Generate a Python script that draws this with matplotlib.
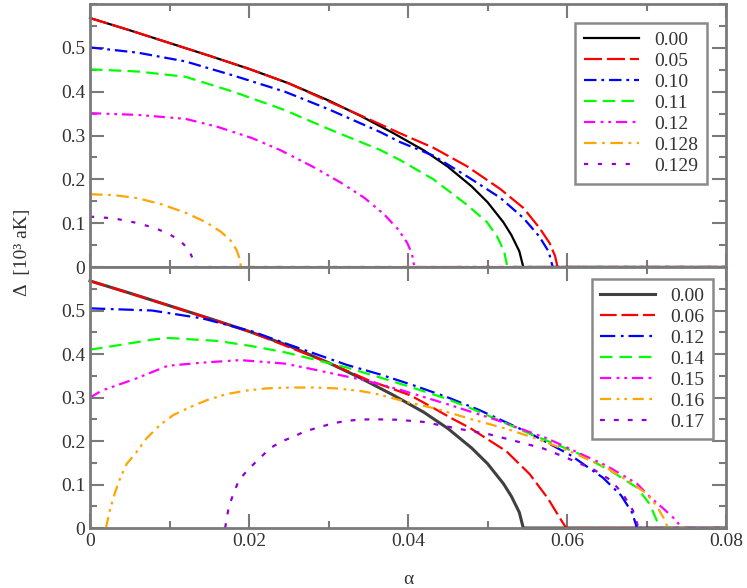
import numpy as np
import matplotlib
matplotlib.use("Agg")
import matplotlib.pyplot as plt
from matplotlib.ticker import MultipleLocator

plt.rcParams['font.family'] = ['Liberation Serif', 'DejaVu Serif']
plt.rcParams['lines.scale_dashes'] = False

# ---- data ----
# top panel
top_labels = ['0.00', '0.05', '0.10', '0.11', '0.12', '0.128', '0.129']

a_black = [0, 0.005, 0.01, 0.015, 0.02, 0.025, 0.03, 0.034, 0.038, 0.042, 0.045, 0.048, 0.050, 0.052, 0.053, 0.054, 0.0545]
d_black = [0.568, 0.540, 0.511, 0.482, 0.452, 0.419, 0.380, 0.345, 0.307, 0.266, 0.229, 0.184, 0.148, 0.102, 0.073, 0.036, 0.0]

a_t05 = [0, 0.005, 0.01, 0.015, 0.02, 0.025, 0.03, 0.035, 0.039, 0.0432, 0.0474, 0.0516, 0.0545, 0.0565, 0.0578, 0.0585, 0.0588]
d_t05 = [0.568, 0.540, 0.511, 0.482, 0.452, 0.419, 0.378, 0.338, 0.305, 0.272, 0.230, 0.178, 0.135, 0.090, 0.055, 0.025, 0.0]

a_t10 = [0, 0.006, 0.012, 0.018, 0.0245, 0.03, 0.0365, 0.039, 0.0432, 0.0474, 0.0516, 0.0545, 0.0565, 0.0577, 0.0582]
d_t10 = [0.501, 0.489, 0.469, 0.437, 0.400, 0.360, 0.308, 0.285, 0.254, 0.207, 0.158, 0.112, 0.070, 0.035, 0.0]

a_t11 = [0, 0.006, 0.012, 0.018, 0.0245, 0.03, 0.0365, 0.039, 0.0432, 0.0474, 0.0499, 0.0512, 0.0521, 0.0525]
d_t11 = [0.451, 0.446, 0.434, 0.400, 0.358, 0.315, 0.267, 0.244, 0.200, 0.142, 0.103, 0.070, 0.035, 0.0]

a_t12 = [0, 0.006, 0.012, 0.016, 0.0204, 0.0239, 0.028, 0.0315, 0.0345, 0.037, 0.0388, 0.0399, 0.0405, 0.0408]
d_t12 = [0.351, 0.347, 0.338, 0.320, 0.294, 0.267, 0.229, 0.193, 0.158, 0.120, 0.085, 0.055, 0.030, 0.0]

a_t128 = [0, 0.003, 0.006, 0.009, 0.012, 0.0145, 0.0165, 0.0177, 0.0184, 0.0188, 0.0190]
d_t128 = [0.166, 0.164, 0.157, 0.143, 0.124, 0.103, 0.080, 0.060, 0.040, 0.020, 0.0]

a_t129 = [0, 0.003, 0.0055, 0.008, 0.0100, 0.0115, 0.0124, 0.0129, 0.0131]
d_t129 = [0.115, 0.111, 0.102, 0.090, 0.075, 0.057, 0.040, 0.020, 0.0]

# bottom panel
bot_labels = ['0.00', '0.06', '0.12', '0.14', '0.15', '0.16', '0.17']

a_b06 = [0, 0.01, 0.02, 0.03, 0.035, 0.0403, 0.0428, 0.0455, 0.0478, 0.0524, 0.0553, 0.0576, 0.0591, 0.0599]
d_b06 = [0.568, 0.511, 0.452, 0.380, 0.340, 0.305, 0.280, 0.252, 0.230, 0.176, 0.124, 0.068, 0.023, 0.0]

a_b12 = [0, 0.0078, 0.0141, 0.0204, 0.0245, 0.0323, 0.0365, 0.0407, 0.0449, 0.049, 0.0553, 0.0604, 0.0645, 0.0668, 0.0682, 0.0688]
d_b12 = [0.505, 0.500, 0.482, 0.452, 0.425, 0.375, 0.353, 0.328, 0.301, 0.271, 0.218, 0.168, 0.116, 0.075, 0.035, 0.0]

a_b14 = [0, 0.0035, 0.0078, 0.0098, 0.0161, 0.0204, 0.0245, 0.0323, 0.0365, 0.0407, 0.0449, 0.049, 0.0553, 0.0616, 0.0658, 0.0688, 0.0704, 0.0717]
d_b14 = [0.410, 0.420, 0.433, 0.437, 0.430, 0.418, 0.404, 0.369, 0.346, 0.322, 0.297, 0.267, 0.217, 0.170, 0.128, 0.093, 0.055, 0.0]

a_b15 = [0, 0.0015, 0.0057, 0.0098, 0.014, 0.0189, 0.0245, 0.028, 0.0344, 0.0386, 0.0449, 0.0512, 0.0575, 0.065, 0.0688, 0.0704, 0.0721, 0.0733, 0.0745]
d_b15 = [0.300, 0.316, 0.343, 0.373, 0.380, 0.386, 0.378, 0.365, 0.340, 0.320, 0.285, 0.248, 0.206, 0.143, 0.102, 0.072, 0.045, 0.025, 0.0]

a_b16 = [0.002, 0.0025, 0.0031, 0.0038, 0.0046, 0.0059, 0.0071, 0.0088, 0.0105, 0.0126, 0.0147, 0.0172, 0.0197, 0.0222,
         0.0252, 0.0281, 0.031, 0.034, 0.0361, 0.0398, 0.0436, 0.0478, 0.0524, 0.0562, 0.0604, 0.065, 0.068, 0.07,
         0.0713, 0.0721, 0.0727]
d_b16 = [0.0, 0.041, 0.079, 0.115, 0.147, 0.176, 0.206, 0.237, 0.260, 0.278, 0.294, 0.308, 0.316, 0.321,
         0.323, 0.323, 0.321, 0.315, 0.308, 0.290, 0.274, 0.251, 0.228, 0.205, 0.176, 0.138, 0.105, 0.079,
         0.050, 0.025, 0.0]

a_b17 = [0.0170, 0.0172, 0.0175, 0.0181, 0.0187, 0.0199, 0.0214, 0.0226, 0.0241, 0.0256, 0.027, 0.0287, 0.0304,
         0.0321, 0.0338, 0.0355, 0.0386, 0.0419, 0.047, 0.0503, 0.0537, 0.057, 0.06, 0.0633, 0.0655, 0.067,
         0.0683, 0.069]
d_b17 = [0.0, 0.023, 0.052, 0.081, 0.109, 0.135, 0.161, 0.183, 0.199, 0.210, 0.222, 0.231, 0.240,
         0.246, 0.249, 0.250, 0.249, 0.244, 0.226, 0.215, 0.199, 0.183, 0.161, 0.135, 0.110, 0.079,
         0.040, 0.0]

x_end = 0.08

# styles: (colour, dash pattern in points)
top_styles = [
    ('#000000', None),
    ('#ff0000', (13, 3.5)),
    ('#0000ff', (9, 3.5, 2, 3.5)),
    ('#00ff00', (9, 4.5)),
    ('#ff00ff', (8, 4, 2, 3.5, 2, 3.5)),
    ('#ffa500', (9, 4, 2, 4)),
    ('#9400d3', (3, 7)),
]
bot_styles = [
    ('#404040', None),
    ('#ff0000', (12, 3.5)),
    ('#0000ff', (11, 4, 2, 3.5)),
    ('#00ff00', (9, 5)),
    ('#ff00ff', (8, 4, 2, 3.5, 2, 3.5)),
    ('#ffa500', (8, 4, 2, 3.5, 2, 4)),
    ('#9400d3', (3.5, 6.5)),
]

top_series = [(a_black, d_black), (a_t05, d_t05), (a_t10, d_t10), (a_t11, d_t11),
              (a_t12, d_t12), (a_t128, d_t128), (a_t129, d_t129)]
bot_series = [(a_black, d_black), (a_b06, d_b06), (a_b12, d_b12), (a_b14, d_b14),
              (a_b15, d_b15), (a_b16, d_b16), (a_b17, d_b17)]

fig = plt.figure(figsize=(7.47, 5.88), dpi=100)
ax_top = fig.add_axes([0.1205, 0.5459, 0.8514, 0.4473])
ax_bot = fig.add_axes([0.1205, 0.1020, 0.8514, 0.4439])

spine_c = '#7a7a7a'
text_c = '#333333'


def draw_panel(ax, series, styles, labels, bot_gray=False):
    for (a, d), (c, dash), lab in zip(series, styles, labels):
        xs = list(a) + [x_end]
        ys = list(d) + [0.0]
        lw = 2.2 if (dash is None and bot_gray) else 1.6
        line, = ax.plot(xs, ys, color=c, lw=lw, label=lab, clip_on=False)
        if dash is not None:
            line.set_dashes(dash)
    ax.set_xlim(0, 0.08)
    ax.set_ylim(0, 0.6)
    ax.xaxis.set_major_locator(MultipleLocator(0.02))
    ax.xaxis.set_minor_locator(MultipleLocator(0.01))
    ax.yaxis.set_major_locator(MultipleLocator(0.1))
    ax.yaxis.set_minor_locator(MultipleLocator(0.05))
    ax.tick_params(which='both', direction='in', top=True, right=True,
                   color=spine_c, width=1.5, labelsize=14, labelcolor=text_c)
    ax.tick_params(which='major', length=10)
    ax.tick_params(which='minor', length=5)
    for s in ax.spines.values():
        s.set_color(spine_c)
        s.set_linewidth(2)
    ax.set_yticks([0, 0.1, 0.2, 0.3, 0.4, 0.5])
    ax.set_yticklabels(['0', '0.1', '0.2', '0.3', '0.4', '0.5'])


draw_panel(ax_top, top_series, top_styles, top_labels)
draw_panel(ax_bot, bot_series, bot_styles, bot_labels, bot_gray=True)

ax_top.tick_params(labelbottom=False)
ax_bot.set_xticks([0, 0.02, 0.04, 0.06, 0.08])
ax_bot.set_xticklabels(['0', '0.02', '0.04', '0.06', '0.08'])

leg_kw = dict(loc='upper right', borderaxespad=0, fancybox=False, framealpha=1,
              edgecolor='#8a8a8a', fontsize=14, handlelength=2.8, handletextpad=0.8,
              labelspacing=0.17, borderpad=0.45, labelcolor=text_c)
lt = ax_top.legend(bbox_to_anchor=(0.970, 0.928), **leg_kw)
lb = ax_bot.legend(bbox_to_anchor=(0.980, 0.955), **leg_kw)
for lg in (lt, lb):
    lg.get_frame().set_linewidth(1.8)

fig.text(0.030, 1 - 252 / 588, 'Δ  [10³ aK]', rotation=90, ha='center', va='center',
         fontsize=14, color=text_c)
fig.text(408 / 747, 1 - 580 / 588, 'α', ha='center', va='center', fontsize=14, color=text_c)

fig.savefig('out.png', dpi=100)
